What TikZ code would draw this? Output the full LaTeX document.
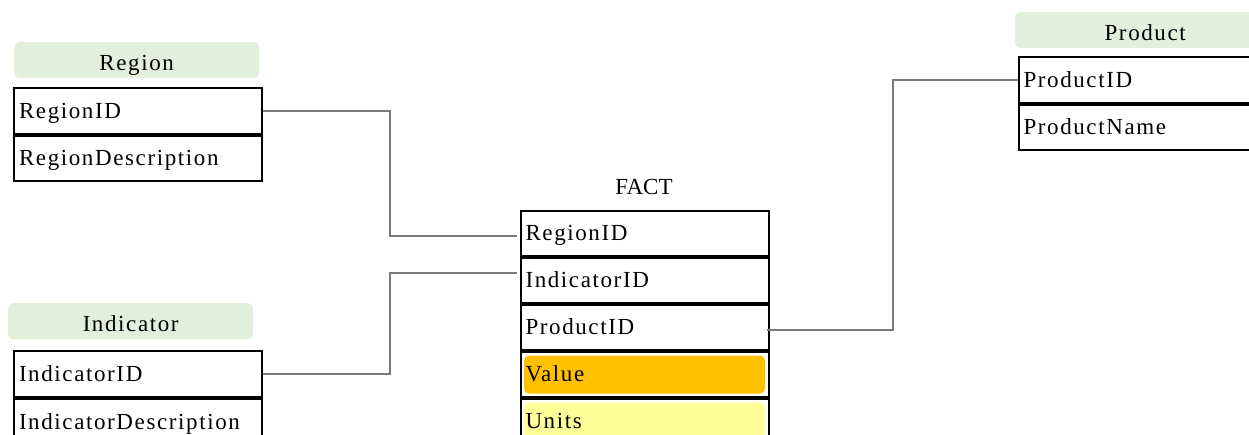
\documentclass[tikz,border=0pt]{standalone}
\usepackage{fontspec}
\setmainfont{Liberation Serif}[LetterSpace=7]
\newfontfamily\plainfont{Liberation Serif}
\usetikzlibrary{calc}
\definecolor{hdrgreen}{HTML}{E2EFDA}
\definecolor{valorange}{HTML}{FFC000}
\definecolor{unityellow}{HTML}{FFFF99}
\definecolor{linkgray}{HTML}{7A7A7A}
\begin{document}
\begin{tikzpicture}[x=1pt,y=-1pt,
  every node/.style={font=\fontsize{23}{27}\selectfont},
  titlebox/.style={fill=hdrgreen, rounded corners=5pt, anchor=north west, inner sep=0pt,
    minimum height=36pt, text height=21pt, text depth=0pt},
  fieldbox/.style={draw, line width=2pt, anchor=north west, inner xsep=5pt, inner ysep=0pt,
    text width=238pt, align=left, minimum height=#1, text height=14.5pt, text depth=0pt},
  fieldbox/.default=45.5pt,
  insetfill/.style={path picture={\fill[#1, rounded corners=5pt]
    ([shift={(3.5pt,-3.5pt)}]path picture bounding box.north west) rectangle
    ([shift={(-3.5pt,3.5pt)}]path picture bounding box.south east);}},
  link/.style={draw=linkgray, line width=2pt}
]
\useasboundingbox (0,0) rectangle (1249,434);

% Region
\node[titlebox, minimum width=245pt] (regT) at (14,42) {Region};
\node[fieldbox] (rid) at (13,87) {RegionID};
\node[fieldbox] (rdesc) at (rid.south west) {RegionDescription};

% Indicator
\node[titlebox, minimum width=245pt] (indT) at (8,303) {Indicator};
\node[fieldbox=46pt] (iid) at (13,350) {IndicatorID};
\node[fieldbox=46pt] (idesc) at (iid.south west) {IndicatorDescription};

% Product
\node[titlebox, minimum width=260pt] (prodT) at (1015,12) {Product};
\node[fieldbox] (pid) at (1017.5,56) {ProductID};
\node[fieldbox] (pname) at (pid.south west) {ProductName};

% FACT
\node[inner sep=0pt, anchor=base, font=\fontsize{23}{27}\plainfont] (factT) at (644,194) {FACT};
\node[fieldbox=45pt] (frid) at (519.5,210) {RegionID};
\node[fieldbox=45pt] (fiid) at (frid.south west) {IndicatorID};
\node[fieldbox=45pt] (fpid) at (fiid.south west) {ProductID};
\node[fieldbox=45pt, insetfill=valorange] (fval) at (fpid.south west) {Value};
\node[fieldbox=45pt, insetfill=unityellow] (funit) at (fval.south west) {Units};

% connectors
\draw[link, shorten >=3pt] (rid.east) -- ++(127,0) |- ([yshift=-2.5pt]frid.west);
\draw[link, shorten >=3pt] (iid.east) -- ++(127,0) |- ([yshift=7.5pt]fiid.west);
\draw[link, shorten <=-3pt] ([yshift=-2.5pt]fpid.east) -- ++(123,0) |- (pid.west);
\end{tikzpicture}
\end{document}
